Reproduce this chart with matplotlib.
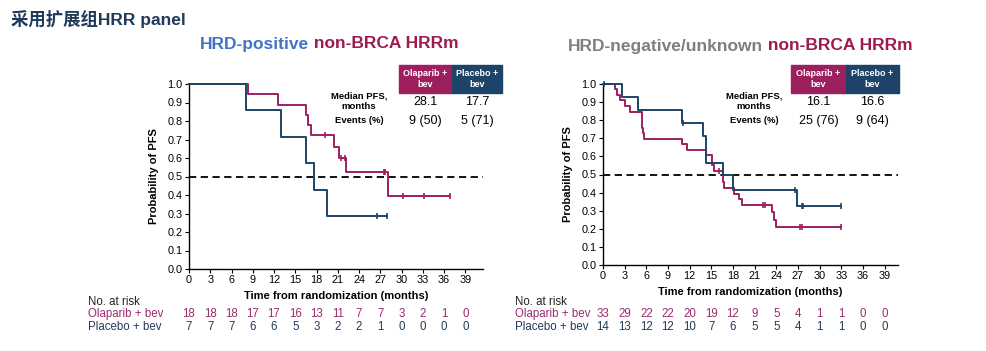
import numpy as np
import matplotlib.pyplot as plt
from matplotlib.patches import Rectangle
from matplotlib import transforms

plt.rcParams["font.family"] = ["Liberation Sans", "Noto Sans CJK SC", "DejaVu Sans"]

OLA = "#9e1f5e"
PBO = "#1d4468"
OLA_TXT = "#9a2a6e"
NAVY = "#203a5c"

months = [0, 3, 6, 9, 12, 15, 18, 21, 24, 27, 30, 33, 36, 39]
yticks = [0.0, 0.1, 0.2, 0.3, 0.4, 0.5, 0.6, 0.7, 0.8, 0.9, 1.0]

# HRD-positive panel
pos_ola_t = [0, 8.3, 12.6, 16.5, 16.85, 17.2, 20.4, 21.2, 22.2, 28.15]
pos_ola_s = [1.0, 0.944, 0.889, 0.833, 0.778, 0.722, 0.662, 0.602, 0.527, 0.395]
pos_ola_end = 36.9
pos_ola_cens = [19.2, 21.4, 22.0, 27.5, 27.7, 30.2, 33.2, 36.9]
pos_pbo_t = [0, 8.0, 13.0, 16.5, 17.65, 19.5]
pos_pbo_s = [1.0, 0.857, 0.714, 0.571, 0.429, 0.286]
pos_pbo_end = 28.0
pos_pbo_cens = [26.5, 28.0]
pos_risk_ola = [18, 18, 18, 17, 17, 16, 13, 11, 7, 7, 3, 2, 1, 0]
pos_risk_pbo = [7, 7, 7, 6, 6, 5, 3, 2, 2, 1, 0, 0, 0, 0]
pos_median = ["28.1", "17.7"]
pos_events = ["9 (50)", "5 (71)"]

# HRD-negative/unknown panel
neg_ola_t = [0, 1.7, 2.0, 2.4, 3.0, 3.7, 5.35, 5.4, 5.45, 5.6, 5.65, 10.9, 11.6,
             14.3, 15.05, 15.4, 16.6, 16.65, 16.7, 18.2, 18.8, 19.2, 23.4, 23.7, 24.0]
neg_ola_s = [1.0, 0.970, 0.939, 0.909, 0.879, 0.848, 0.818, 0.788, 0.758, 0.727, 0.697,
             0.667, 0.636, 0.606, 0.552, 0.521, 0.488, 0.456, 0.424, 0.394, 0.364,
             0.333, 0.291, 0.250, 0.208]
neg_ola_end = 33.0
neg_ola_cens = [16.1, 22.1, 22.4, 27.3, 27.5, 33.0]
neg_pbo_t = [0, 2.7, 4.9, 11.0, 13.9, 14.3, 16.6, 18.05, 26.8]
neg_pbo_s = [1.0, 0.929, 0.857, 0.786, 0.714, 0.566, 0.495, 0.413, 0.325]
neg_pbo_end = 33.0
neg_pbo_cens = [0.1, 11.1, 26.6, 27.5, 27.75, 33.0]
neg_risk_ola = [33, 29, 22, 22, 20, 19, 12, 9, 5, 4, 1, 1, 0, 0]
neg_risk_pbo = [14, 13, 12, 12, 10, 7, 6, 5, 5, 4, 1, 1, 0, 0]
neg_median = ["16.1", "16.6"]
neg_events = ["25 (76)", "9 (64)"]

W, H = 987, 351


def fx(x):
    return x / W


def fy(y):
    return 1 - y / H


def km(ax, t, s, end, cens, color):
    t = np.array(t + [end])
    s = np.array(s + [s[-1]])
    ax.step(t, s, where="post", color=color, lw=1.4, clip_on=False, zorder=3)
    idx = np.searchsorted(t, cens, side="right") - 1
    ax.plot(cens, s[idx], ls="none", marker="|", ms=4.5, mew=1.2, color=color,
            clip_on=False, zorder=4)


def panel(fig, rect, xmax, ola, pbo, risk_ola, risk_pbo, left_px, median, events,
          box_x, lab_x):
    ax = fig.add_axes(rect)
    km(ax, *ola, OLA)
    km(ax, *pbo, PBO)
    ax.axhline(0.5, color="black", ls=(0, (4, 2.5)), lw=1.3, zorder=2)
    ax.set_xlim(0, xmax)
    ax.set_ylim(0, 1.0)
    ax.set_xticks(months)
    ax.set_yticks(yticks)
    ax.set_yticklabels([f"{v:.1f}" for v in yticks])
    ax.tick_params(labelsize=7.8, length=3, width=0.8, pad=1.5)
    for side in ["top", "right"]:
        ax.spines[side].set_visible(False)
    for side in ["left", "bottom"]:
        ax.spines[side].set_linewidth(1.0)
    ax.set_ylabel("Probability of PFS", fontsize=8, fontweight="bold", labelpad=6)
    ax.set_xlabel("Time from randomization (months)", fontsize=8,
                  fontweight="bold", labelpad=4)

    # number at risk
    tr = transforms.blended_transform_factory(ax.transData, fig.transFigure)
    for m, a, b in zip(months, risk_ola, risk_pbo):
        ax.text(m, fy(314), str(a), transform=tr, ha="center", va="center",
                fontsize=8.3, color=OLA_TXT, clip_on=False)
        ax.text(m, fy(327), str(b), transform=tr, ha="center", va="center",
                fontsize=8.3, color=NAVY, clip_on=False)
    fig.text(fx(left_px), fy(302), "No. at risk", ha="left", va="center",
             fontsize=8.3, color="#222222")
    fig.text(fx(left_px), fy(314), "Olaparib + bev", ha="left", va="center",
             fontsize=8.3, color=OLA_TXT)
    fig.text(fx(left_px), fy(327), "Placebo + bev", ha="left", va="center",
             fontsize=8.3, color=NAVY)

    # median PFS table
    x0, x1, x2 = box_x
    for (a, b), col, lab in [((x0, x1), OLA, "Olaparib +\nbev"),
                             ((x1, x2), PBO, "Placebo +\nbev")]:
        fig.patches.append(Rectangle((fx(a), fy(93)), (b - a) / W, 28 / H,
                                     transform=fig.transFigure, color=col))
        fig.text(fx((a + b) / 2), fy(79), lab, ha="center", va="center",
                 fontsize=6.5, fontweight="bold", color="white", linespacing=1.25)
    fig.text(fx(lab_x), fy(101), "Median PFS,\nmonths", ha="center", va="center",
             fontsize=6.8, fontweight="bold", linespacing=1.25)
    fig.text(fx(lab_x), fy(120.5), "Events (%)", ha="center", va="center",
             fontsize=6.8, fontweight="bold")
    for cx, med, ev in zip([(x0 + x1) / 2, (x1 + x2) / 2], median, events):
        fig.text(fx(cx), fy(102), med, ha="center", va="center", fontsize=9)
        fig.text(fx(cx), fy(121), ev, ha="center", va="center", fontsize=9)
    return ax


fig = plt.figure(figsize=(W / 100, H / 100), dpi=100)

panel(fig, [fx(189), fy(269), 294 / W, 185 / H], 41.5,
      (pos_ola_t, pos_ola_s, pos_ola_end, pos_ola_cens),
      (pos_pbo_t, pos_pbo_s, pos_pbo_end, pos_pbo_cens),
      pos_risk_ola, pos_risk_pbo, 88, pos_median, pos_events,
      (399, 452, 502), 359)

panel(fig, [fx(603), fy(265), 295 / W, 181 / H], 40.85,
      (neg_ola_t, neg_ola_s, neg_ola_end, neg_ola_cens),
      (neg_pbo_t, neg_pbo_s, neg_pbo_end, neg_pbo_cens),
      neg_risk_ola, neg_risk_pbo, 515, neg_median, neg_events,
      (791, 846, 899), 754)

fig.text(fx(11), fy(19), "采用扩展组HRR panel", ha="left", va="center",
         fontsize=12.5, fontweight="bold", color=NAVY)

# two-colour panel titles: draw the first part, then continue after it
fig.canvas.draw()
for x, y, first, col in [(200, 44, "HRD-positive", "#4472c4"),
                         (568, 46, "HRD-negative/unknown", "#7f7f7f")]:
    t = fig.text(fx(x), fy(y), first, ha="left", va="center",
                 fontsize=12.5, fontweight="bold", color=col)
    bb = t.get_window_extent(renderer=fig.canvas.get_renderer())
    fig.text(bb.x1 / W, fy(y), " non-BRCA HRRm", ha="left", va="center",
             fontsize=12.5, fontweight="bold", color="#9e1a50")

fig.savefig("out.png", dpi=100)
